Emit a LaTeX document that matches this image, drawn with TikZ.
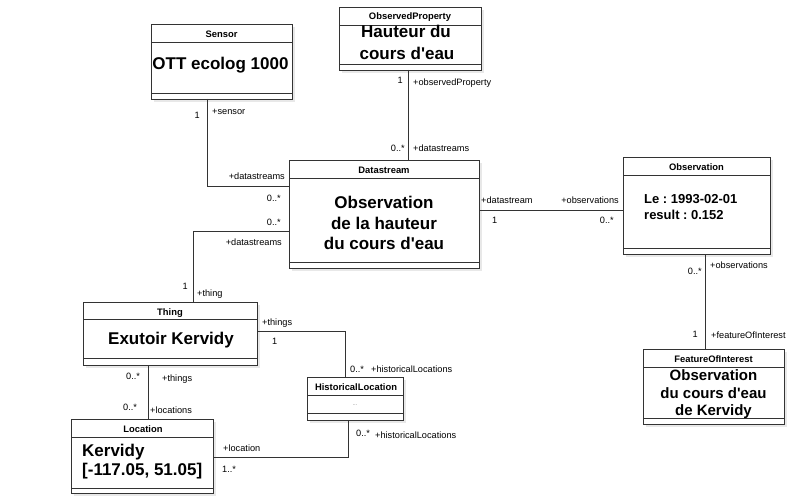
\documentclass[tikz,border=0pt]{standalone}
\usepackage{fontspec}
\setmainfont{Liberation Sans}
\frenchspacing
\begin{document}
\begin{tikzpicture}[x=1pt,y=-1pt,
  box/.style={draw=black!80,fill=white,line width=0.8pt,inner sep=0pt,outer sep=0pt,anchor=north west},
  shade/.style={fill=black!9},
  sep/.style={draw=black!80,line width=0.8pt},
  conn/.style={draw=black!80,line width=0.8pt},
  hdr/.style={font=\fontsize{9.4}{11}\selectfont\bfseries,anchor=base,inner sep=0pt},
  big/.style={font=\fontsize{17}{20}\selectfont\bfseries,inner sep=0pt},
  mid/.style={font=\fontsize{15}{18}\selectfont\bfseries,inner sep=0pt,anchor=base},
  med/.style={font=\fontsize{13}{14}\selectfont\bfseries,inner sep=0pt,anchor=base west},
  lbl/.style={font=\fontsize{9.2}{11}\selectfont,inner sep=0pt},
  lw/.style={lbl,anchor=base west},
  le/.style={lbl,anchor=base east}]
\useasboundingbox (0,0) rectangle (790,500);

% ---------- shadows
\fill[shade] (154,27) rectangle (295,102);
\fill[shade] (342,10) rectangle (484,73);
\fill[shade] (292,163) rectangle (482,271);
\fill[shade] (626,160) rectangle (773,257);
\fill[shade] (646,352) rectangle (787,427);
\fill[shade] (86,305) rectangle (260,368);
\fill[shade] (310,380) rectangle (406,423);
\fill[shade] (74,422) rectangle (216,496);

% ---------- boxes
\node[box,minimum width=141pt,minimum height=75pt] (sensor) at (151,24) {};
\draw[sep] (sensor.west |- 0,42) -- (sensor.east |- 0,42);
\draw[sep] (sensor.west |- 0,93) -- (sensor.east |- 0,93);
\node[hdr] (sensorh) at (221.5,37.5) {Sensor};
\node[big,anchor=base] (sensorb) at (220.5,70) {OTT ecolog 1000};

\node[box,minimum width=142pt,minimum height=63pt] (obsprop) at (339,7) {};
\draw[sep] (obsprop.west |- 0,25) -- (obsprop.east |- 0,25);
\draw[sep] (obsprop.west |- 0,64) -- (obsprop.east |- 0,64);
\node[hdr] (obsproph) at (410,20) {ObservedProperty};
\node[big,anchor=base] (obspropb1) at (406,38) {Hauteur du};
\node[big,anchor=base] (obspropb2) at (407,60) {cours d\textquotesingle eau};

\node[box,minimum width=190pt,minimum height=108pt] (ds) at (289,160) {};
\draw[sep] (ds.west |- 0,178) -- (ds.east |- 0,178);
\draw[sep] (ds.west |- 0,262) -- (ds.east |- 0,262);
\node[hdr] (dsh) at (384,173.5) {Datastream};
\node[big,anchor=base] (dsb1) at (384,208) {Observation};
\node[big,anchor=base] (dsb2) at (384,229) {de la hauteur};
\node[big,anchor=base] (dsb3) at (384,249.5) {du cours d\textquotesingle eau};

\node[box,minimum width=147pt,minimum height=97pt] (obs) at (623,157) {};
\draw[sep] (obs.west |- 0,175) -- (obs.east |- 0,175);
\draw[sep] (obs.west |- 0,248) -- (obs.east |- 0,248);
\node[hdr] (obsh) at (696.5,170.5) {Observation};
\node[med] (obsb1) at (644,204) {Le : 1993-02-01};
\node[med] (obsb2) at (644,219) {result : 0.152};

\node[box,minimum width=141pt,minimum height=75pt] (foi) at (643,349) {};
\draw[sep] (foi.west |- 0,367) -- (foi.east |- 0,367);
\draw[sep] (foi.west |- 0,418) -- (foi.east |- 0,418);
\node[hdr] (foih) at (713.5,362.5) {FeatureOfInterest};
\node[mid] (foib1) at (713.5,380) {Observation};
\node[mid] (foib2) at (713.5,398) {du cours d\textquotesingle eau};
\node[mid] (foib3) at (713.5,415.5) {de Kervidy};

\node[box,minimum width=174pt,minimum height=63pt] (thing) at (83,302) {};
\draw[sep] (thing.west |- 0,319) -- (thing.east |- 0,319);
\draw[sep] (thing.west |- 0,358) -- (thing.east |- 0,358);
\node[hdr] (thingh) at (170,315) {Thing};
\node[big,anchor=base] (thingb) at (171,344) {Exutoir Kervidy};

\node[box,minimum width=96pt,minimum height=43pt] (hl) at (307,377) {};
\draw[sep] (hl.west |- 0,395) -- (hl.east |- 0,395);
\draw[sep] (hl.west |- 0,413) -- (hl.east |- 0,413);
\node[hdr] (hlh) at (356,390) {HistoricalLocation};
\node[font=\fontsize{6}{7}\selectfont,text=black!45,inner sep=0pt,anchor=base] (hlb) at (355,405.5) {...};

\node[box,minimum width=142pt,minimum height=74pt] (loc) at (71,419) {};
\draw[sep] (loc.west |- 0,437) -- (loc.east |- 0,437);
\draw[sep] (loc.west |- 0,488) -- (loc.east |- 0,488);
\node[hdr] (loch) at (143,432.5) {Location};
\node[big,anchor=base west] (locb1) at (82,456) {Kervidy};
\node[big,anchor=base west] (locb2) at (82,475) {[-117.05, 51.05]};

% ---------- connectors
\draw[conn] (sensor.south -| 207,0) |- (ds.west |- 0,186);
\draw[conn] (obsprop.south -| 408,0) -- (ds.north -| 408,0);
\draw[conn] (ds.west |- 0,231) -| (thing.north -| 193,0);
\draw[conn] (ds.east |- 0,210) -- (obs.west |- 0,210);
\draw[conn] (obs.south -| 705,0) -- (foi.north -| 705,0);
\draw[conn] (thing.east |- 0,331) -| (hl.north -| 345,0);
\draw[conn] (thing.south -| 148,0) -- (loc.north -| 148,0);
\draw[conn] (hl.south -| 348,0) |- (loc.east |- 0,457);

% ---------- labels
\node[le] (l1) at (200,119) {1};
\node[lw] (l2) at (212,115) {+sensor};
\node[le] (l3) at (285,179) {+datastreams};
\node[le] (l4) at (281,201) {0..*};

\node[le] (l5) at (403,84) {1};
\node[lw] (l6) at (413,86) {+observedProperty};
\node[le] (l7) at (405,152) {0..*};
\node[lw] (l8) at (413,152) {+datastreams};

\node[le] (l9) at (281,225) {0..*};
\node[le] (l10) at (282,245) {+datastreams};
\node[le] (l11) at (188,289) {1};
\node[lw] (l12) at (197,296) {+thing};

\node[lw] (l13) at (481,203) {+datastream};
\node[lw] (l14) at (492,223) {1};
\node[le] (l15) at (619,203) {+observations};
\node[le] (l16) at (614,223) {0..*};

\node[le] (l17) at (702,274) {0..*};
\node[lw] (l18) at (710,268) {+observations};
\node[le] (l19) at (698,337) {1};
\node[lw] (l20) at (711,338) {+featureOfInterest};

\node[lw] (l21) at (262,325) {+things};
\node[lw] (l22) at (272,344) {1};
\node[lw] (l23) at (350,372) {0..*};
\node[lw] (l24) at (371,372) {+historicalLocations};

\node[lw] (l25) at (126,379) {0..*};
\node[lw] (l26) at (162,381) {+things};
\node[lw] (l27) at (123,410) {0..*};
\node[lw] (l28) at (150,413) {+locations};

\node[lw] (l29) at (356,436) {0..*};
\node[lw] (l30) at (375,438) {+historicalLocations};
\node[lw] (l31) at (223,451) {+location};
\node[lw] (l32) at (222,472) {1..*};
\end{tikzpicture}
\end{document}
